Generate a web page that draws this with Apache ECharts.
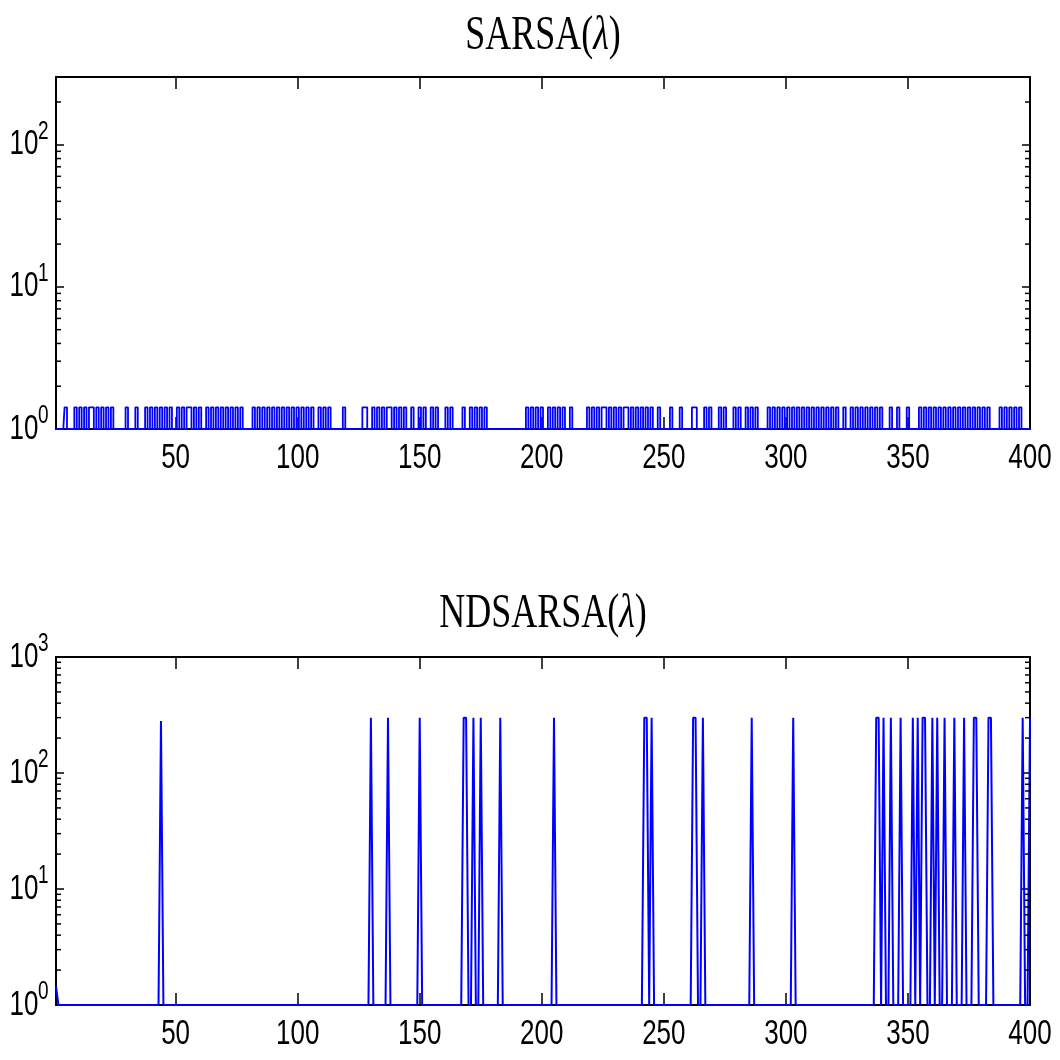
<!DOCTYPE html>
<html><head><meta charset="utf-8">
<script src="https://cdn.jsdelivr.net/npm/echarts@6/dist/echarts.min.js"></script>
<style>html,body{margin:0;padding:0;background:#fff}#c{width:1060px;height:1060px}</style>
</head><body><div id="c"></div>
<script>
// ---------- data ----------
const episodeCount = 400;
const xTickValues = [50, 100, 150, 200, 250, 300, 350, 400];
const yTickTop = [1, 10, 100];
const yTickBottom = [1, 10, 100, 1000];
const baseValue = 1;

// SARSA(lambda): episodes whose value rises to the small peak
const sarsaPeakValue = 1.42;
const sarsaSpikeEpisodes = [
  5, 9, 11, 13, 15, 16, 18, 20, 22, 24, 30, 34, 38, 40, 42, 44, 46, 48,
  51, 53, 55, 56, 58, 60, 63, 65, 67, 69, 71, 73, 75, 77,
  82, 84, 86, 88, 90, 92, 94, 96, 98, 100, 102, 104, 106, 109, 111, 113, 119,
  127, 128, 131, 133, 135, 137, 138, 140, 142, 144, 147, 150, 152, 155, 157,
  161, 163, 168, 171, 173, 175, 177,
  194, 196, 198, 200, 203, 205, 207, 209, 212,
  219, 221, 223, 225, 226, 228, 230, 232, 234, 235, 237, 239, 241, 243, 245,
  248, 253, 257, 262, 263, 267, 269, 273, 275, 279, 281, 284, 286, 288,
  293, 295, 297, 299, 301, 303, 305, 307, 309, 311, 313, 315, 317, 319, 321,
  324, 327, 329, 331, 333, 335, 337, 339, 343, 346, 350,
  355, 357, 359, 361, 363, 365, 367, 369, 371, 373, 375, 377,
  379, 381, 383, 388, 390, 392, 394, 396
];

// NDSARSA(lambda): episodes with large values
const ndsarsaSpikeEpisodes = [1, 44, 130, 137, 150, 168, 169, 172, 175, 183, 205, 242, 243, 245,
  262, 263, 266, 286, 303, 337, 338, 340, 343, 347, 352, 354, 356, 357, 360, 362, 365, 369,
  373, 377, 378, 383, 384, 397, 400];
const ndsarsaSpikeValues = [1.45, 280, 300, 300, 300, 300, 300, 300, 300, 300, 300, 300, 300, 300,
  300, 300, 300, 300, 300, 300, 300, 300, 300, 300, 300, 300, 300, 300, 300, 300, 300, 300,
  300, 300, 300, 300, 300, 300, 300];

const yMinorTop = [2,3,4,5,6,7,8,9,20,30,40,50,60,70,80,90,200];
const yMinorBottom = [2,3,4,5,6,7,8,9,20,30,40,50,60,70,80,90,200,300,400,500,600,700,800,900];
const yMaxTop = 300, yMaxBottom = 1000;

// ---------- build series ----------
function buildSeries(spikeEps, spikeVals) {
  const out = [];
  for (let e = 1; e <= episodeCount; e++) out.push([e, baseValue]);
  spikeEps.forEach((e, i) => { out[e - 1][1] = Array.isArray(spikeVals) ? spikeVals[i] : spikeVals; });
  return out;
}
const sarsaData = buildSeries(sarsaSpikeEpisodes, sarsaPeakValue);
const ndsarsaData = buildSeries(ndsarsaSpikeEpisodes, ndsarsaSpikeValues);

// ---------- styling ----------
const labelFamily = "'Liberation Sans',Arial,sans-serif";
const stretch = 1.33;
const axisColor = '#000';
const blue = '#0000ff';

function xAxes(gi) {
  return [
    { type: 'value', gridIndex: gi, min: 1, max: episodeCount, position: 'bottom',
      axisLine: { show: true, onZero: false, lineStyle: { color: axisColor, width: 2 } },
      axisTick: { show: true, inside: true, length: 12, customValues: xTickValues, lineStyle: { color: axisColor, width: 1.5 } },
      axisLabel: { show: false }, splitLine: { show: false } },
    { type: 'value', gridIndex: gi, min: 1, max: episodeCount, position: 'top',
      axisLine: { show: true, onZero: false, lineStyle: { color: axisColor, width: 2 } },
      axisTick: { show: true, inside: true, length: 12, customValues: xTickValues, lineStyle: { color: axisColor, width: 1.5 } },
      axisLabel: { show: false }, splitLine: { show: false } }
  ];
}
function yAxes(gi, max) {
  const common = { type: 'log', logBase: 10, gridIndex: gi, min: 1, max: max,
      axisLine: { show: true, lineStyle: { color: axisColor, width: 2 } },
      axisTick: { show: true, inside: true, length: 8, lineStyle: { color: axisColor, width: 1.5 } },
      axisLabel: { show: false }, splitLine: { show: false } };
  return [Object.assign({ position: 'left' }, common), Object.assign({ position: 'right' }, common)];
}

function minorTickSeries(xi, yi, values) {
  return {
    type: 'custom', xAxisIndex: xi, yAxisIndex: yi, silent: true, clip: false, z: 5,
    data: values.map(v => [1, v]), encode: { x: 0, y: 1 },
    renderItem: function (params, api) {
      const v = api.value(1);
      const pL = api.coord([1, v]);
      const pR = api.coord([episodeCount, v]);
      return { type: 'group', children: [
        { type: 'line', shape: { x1: pL[0], y1: pL[1], x2: pL[0] + 5, y2: pL[1] }, style: { stroke: '#000', lineWidth: 1.5 } },
        { type: 'line', shape: { x1: pR[0], y1: pR[1], x2: pR[0] - 5, y2: pR[1] }, style: { stroke: '#000', lineWidth: 1.5 } }
      ] };
    }
  };
}

// x tick labels (tall, narrow Helvetica-like look)
function xLabelSeries(xi, yi, values) {
  return {
    type: 'custom', xAxisIndex: xi, yAxisIndex: yi, silent: true, clip: false, z: 6,
    data: values.map(v => [v, 1]), encode: { x: 0, y: 1 },
    renderItem: function (params, api) {
      const p = api.coord([api.value(0), 1]);
      return { type: 'text', x: p[0], y: p[1] + 12, scaleY: stretch,
        style: { text: String(api.value(0)), font: '26px ' + labelFamily, fill: '#000',
          textAlign: 'center', textVerticalAlign: 'top' } };
    }
  };
}
// y tick labels 10^n
function yLabelSeries(xi, yi, values) {
  return {
    type: 'custom', xAxisIndex: xi, yAxisIndex: yi, silent: true, clip: false, z: 6,
    data: values.map(v => [1, v]), encode: { x: 0, y: 1 },
    renderItem: function (params, api) {
      const v = api.value(1);
      const p = api.coord([1, v]);
      const e = Math.round(Math.log10(v));
      return { type: 'group', x: p[0] - 8, y: p[1], scaleY: stretch, children: [
        { type: 'text', x: -9.5, y: 0, style: { text: '10', font: '26px ' + labelFamily, fill: '#000',
            textAlign: 'right', textVerticalAlign: 'middle' } },
        { type: 'text', x: -10, y: 0, style: { text: String(e), font: '19px ' + labelFamily, fill: '#000',
            textAlign: 'left', textVerticalAlign: 'bottom' } }
      ] };
    }
  };
}

function lineSeries(xi, yi, data, step, width) {
  return { type: 'line', xAxisIndex: xi, yAxisIndex: yi, data: data, showSymbol: false, symbol: 'none',
    step: step, clip: false, z: 3, lineStyle: { color: blue, width: width }, itemStyle: { color: blue } };
}

const titleFont = "'Liberation Serif','DejaVu Serif',serif";
function titleGraphic(text, y) {
  return { type: 'text', x: 543, y: y, scaleY: 1.35, silent: true,
    style: { text: text, fill: '#000', font: '36px ' + titleFont, textAlign: 'center', textVerticalAlign: 'middle',
      rich: { l: { fontStyle: 'italic', fontSize: 36, fontFamily: titleFont, fill: '#000' } } } };
}

const chart = echarts.init(document.getElementById('c'), null, { renderer: 'canvas' });
chart.setOption({
  animation: false,
  backgroundColor: '#fff',
  grid: [
    { left: 56, right: 30, top: 77, height: 352 },
    { left: 56, right: 30, top: 657, height: 348 }
  ],
  xAxis: [...xAxes(0), ...xAxes(1)],
  yAxis: [...yAxes(0, yMaxTop), ...yAxes(1, yMaxBottom)],
  series: [
    lineSeries(0, 0, sarsaData, 'middle', 1.8),
    lineSeries(2, 2, ndsarsaData, false, 2),
    minorTickSeries(0, 0, yMinorTop),
    minorTickSeries(2, 2, yMinorBottom),
    xLabelSeries(0, 0, xTickValues),
    xLabelSeries(2, 2, xTickValues),
    yLabelSeries(0, 0, yTickTop),
    yLabelSeries(2, 2, yTickBottom)
  ],
  graphic: [
    titleGraphic('SARSA({l|λ})', 36),
    titleGraphic('NDSARSA({l|λ})', 614)
  ]
});
</script>
</body></html>
